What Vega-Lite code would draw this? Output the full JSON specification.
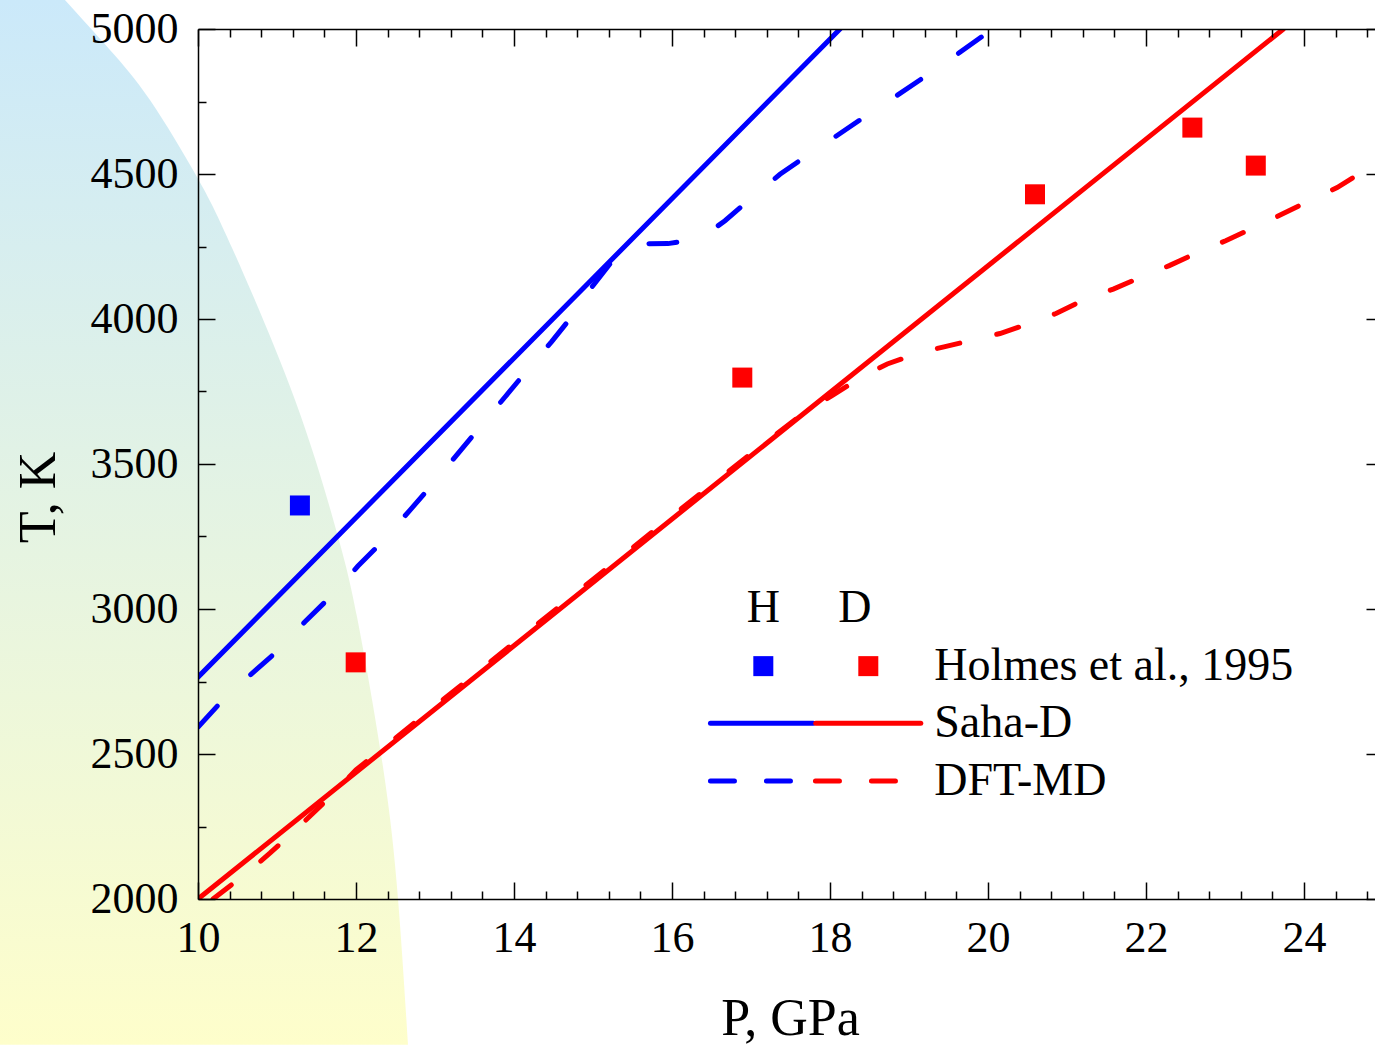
{
  "$schema": "https://vega.github.io/schema/vega-lite/v6.json",
  "width": 1177,
  "height": 870,
  "autosize": {"type": "none"},
  "padding": {"left": 198, "top": 29, "right": 0, "bottom": 146},
  "background": "white",
  "config": {
    "view": {"stroke": null},
    "font": "Liberation Serif",
    "axis": {
      "zindex": 1,
      "grid": false,
      "labelFlush": false,
      "domainColor": "#000000",
      "domainWidth": 1.5,
      "tickColor": "#000000",
      "tickWidth": 1.5,
      "labelFont": "Liberation Serif",
      "labelFontSize": 44,
      "labelColor": "#000000",
      "titleFont": "Liberation Serif",
      "titleFontSize": 52,
      "titleFontWeight": "normal",
      "titleColor": "#000000"
    }
  },
  "datasets": {
    "bg": [
      {"P": 8.316, "T": 5100}, {"P": 8.886, "T": 4928}, {"P": 9.392, "T": 4755},
      {"P": 9.987, "T": 4490}, {"P": 10.443, "T": 4238}, {"P": 11.228, "T": 3721},
      {"P": 11.759, "T": 3262}, {"P": 12.013, "T": 2972}, {"P": 12.342, "T": 2455},
      {"P": 12.532, "T": 2000}, {"P": 12.658, "T": 1497}
    ],
    "saha": [
      {"iso": "H", "P": 10.0, "T": 2765}, {"iso": "H", "P": 18.127, "T": 5000},
      {"iso": "D", "P": 10.0, "T": 2000}, {"iso": "D", "P": 23.74, "T": 5000}
    ],
    "dft": [
      {"iso": "H", "P": 10.004, "T": 2594}, {"iso": "H", "P": 10.257, "T": 2669},
      {"iso": "H", "P": 10.637, "T": 2767}, {"iso": "H", "P": 10.975, "T": 2848},
      {"iso": "H", "P": 11.354, "T": 2956}, {"iso": "H", "P": 11.671, "T": 3041},
      {"iso": "H", "P": 12.025, "T": 3148}, {"iso": "H", "P": 12.329, "T": 3231},
      {"iso": "H", "P": 12.684, "T": 3341}, {"iso": "H", "P": 12.962, "T": 3428},
      {"iso": "H", "P": 13.886, "T": 3731}, {"iso": "H", "P": 14.139, "T": 3814},
      {"iso": "H", "P": 14.477, "T": 3922}, {"iso": "H", "P": 14.73, "T": 4008},
      {"iso": "H", "P": 14.996, "T": 4114}, {"iso": "H", "P": 15.253, "T": 4203},
      {"iso": "H", "P": 15.45, "T": 4245}, {"iso": "H", "P": 15.633, "T": 4259},
      {"iso": "H", "P": 15.949, "T": 4260}, {"iso": "H", "P": 16.354, "T": 4276},
      {"iso": "H", "P": 16.671, "T": 4339}, {"iso": "H", "P": 17.063, "T": 4431},
      {"iso": "H", "P": 17.367, "T": 4499}, {"iso": "H", "P": 17.781, "T": 4577},
      {"iso": "H", "P": 18.085, "T": 4632}, {"iso": "H", "P": 18.485, "T": 4706},
      {"iso": "H", "P": 18.794, "T": 4761}, {"iso": "H", "P": 19.203, "T": 4836},
      {"iso": "H", "P": 19.497, "T": 4891}, {"iso": "H", "P": 19.92, "T": 4973},
      {"iso": "H", "P": 20.063, "T": 5000},
      {"iso": "D", "P": 10.19, "T": 2000}, {"iso": "D", "P": 10.62, "T": 2090},
      {"iso": "D", "P": 10.91, "T": 2158}, {"iso": "D", "P": 11.3, "T": 2255},
      {"iso": "D", "P": 11.7, "T": 2360}, {"iso": "D", "P": 12.0, "T": 2445},
      {"iso": "D", "P": 13.0, "T": 2665}, {"iso": "D", "P": 14.0, "T": 2883},
      {"iso": "D", "P": 15.0, "T": 3102}, {"iso": "D", "P": 16.0, "T": 3320},
      {"iso": "D", "P": 17.0, "T": 3536}, {"iso": "D", "P": 17.725, "T": 3688},
      {"iso": "D", "P": 18.021, "T": 3735}, {"iso": "D", "P": 18.42, "T": 3803},
      {"iso": "D", "P": 18.725, "T": 3845}, {"iso": "D", "P": 19.139, "T": 3884},
      {"iso": "D", "P": 19.443, "T": 3904}, {"iso": "D", "P": 19.848, "T": 3930},
      {"iso": "D", "P": 20.152, "T": 3950}, {"iso": "D", "P": 20.553, "T": 3987},
      {"iso": "D", "P": 20.861, "T": 4019}, {"iso": "D", "P": 21.249, "T": 4071},
      {"iso": "D", "P": 21.586, "T": 4103}, {"iso": "D", "P": 21.966, "T": 4148},
      {"iso": "D", "P": 22.295, "T": 4184}, {"iso": "D", "P": 22.675, "T": 4232},
      {"iso": "D", "P": 23.009, "T": 4270}, {"iso": "D", "P": 23.392, "T": 4318},
      {"iso": "D", "P": 23.718, "T": 4361}, {"iso": "D", "P": 24.097, "T": 4412},
      {"iso": "D", "P": 24.42, "T": 4453}, {"iso": "D", "P": 24.79, "T": 4516},
      {"iso": "D", "P": 24.9, "T": 4528}
    ],
    "holmes": [
      {"iso": "H", "P": 11.29, "T": 3357},
      {"iso": "D", "P": 11.996, "T": 2816},
      {"iso": "D", "P": 16.89, "T": 3798},
      {"iso": "D", "P": 20.595, "T": 4430},
      {"iso": "D", "P": 22.587, "T": 4660},
      {"iso": "D", "P": 23.39, "T": 4529}
    ],
    "legHead": [
      {"label": "H", "P": 17.156, "T": 3002},
      {"label": "D", "P": 18.316, "T": 3002}
    ],
    "legSym": [
      {"iso": "H", "P": 17.156, "T": 2803},
      {"iso": "D", "P": 18.485, "T": 2803}
    ],
    "legSolid": [
      {"iso": "H", "P": 16.487, "T": 2606}, {"iso": "H", "P": 17.789, "T": 2606},
      {"iso": "D", "P": 17.82, "T": 2606}, {"iso": "D", "P": 19.149, "T": 2606}
    ],
    "legDash": [
      {"iso": "H", "P": 16.487, "T": 2407}, {"iso": "H", "P": 17.62, "T": 2407},
      {"iso": "D", "P": 17.816, "T": 2407}, {"iso": "D", "P": 18.886, "T": 2407}
    ],
    "legText": [
      {"label": "Holmes et al., 1995", "P": 19.32, "T": 2803},
      {"label": "Saha-D", "P": 19.32, "T": 2606},
      {"label": "DFT-MD", "P": 19.32, "T": 2407}
    ]
  },
  "layer": [
    {
      "data": {"name": "bg"},
      "mark": {
        "type": "area",
        "orient": "horizontal",
        "interpolate": "natural",
        "clip": false,
        "fill": {
          "gradient": "linear",
          "x1": 0, "y1": 0, "x2": 0, "y2": 1,
          "stops": [
            {"offset": 0, "color": "#cbe9fa"},
            {"offset": 1, "color": "#fefecb"}
          ]
        }
      },
      "encoding": {
        "y": {
          "field": "T", "type": "quantitative",
          "scale": {"domain": [2000, 5000], "nice": false, "zero": false},
          "axis": {
            "orient": "left",
            "zindex": 1,
            "values": [2000, 2500, 3000, 3500, 4000, 4500, 5000],
            "format": "d",
            "tickSize": -17,
            "labelPadding": 37,
            "title": "T, K",
            "titleAngle": -90,
            "titleBaseline": "middle",
            "titleAnchor": null,
            "titleX": -160,
            "titleY": 468
          }
        },
        "x": {
          "field": "P", "type": "quantitative",
          "scale": {"domain": [10, 24.899], "nice": false, "zero": false},
          "axis": {
            "orient": "bottom",
            "zindex": 1,
            "values": [10, 12, 14, 16, 18, 20, 22, 24],
            "format": "d",
            "tickSize": -17,
            "labelPadding": 34,
            "title": "P, GPa",
            "titleAnchor": null,
            "titleBaseline": "middle",
            "titleX": 592,
            "titleY": 119
          }
        },
        "x2": {"datum": 7.0}
      }
    },
    {
      "data": {"name": "saha"},
      "mark": {"type": "line", "strokeWidth": 5, "strokeCap": "round", "clip": true},
      "encoding": {
        "x": {
          "field": "P", "type": "quantitative",
          "scale": {"domain": [10, 24.899], "nice": false, "zero": false},
          "axis": {
            "orient": "bottom",
            "zindex": 1,
            "values": [10.4, 10.8, 11.2, 11.6, 12.4, 12.8, 13.2, 13.6, 14.4, 14.8, 15.2, 15.6, 16.4, 16.8, 17.2, 17.6, 18.4, 18.8, 19.2, 19.6, 20.4, 20.8, 21.2, 21.6, 22.4, 22.8, 23.2, 23.6, 24.4, 24.8],
            "tickSize": -8, "labels": false, "domain": false, "title": null
          }
        },
        "y": {
          "field": "T", "type": "quantitative",
          "scale": {"domain": [2000, 5000], "nice": false, "zero": false},
          "axis": {
            "orient": "left",
            "zindex": 1,
            "values": [2250, 2750, 3250, 3750, 4250, 4750],
            "tickSize": -8, "labels": false, "domain": false, "title": null
          }
        },
        "detail": {"field": "iso"},
        "color": {"field": "iso", "type": "nominal", "scale": {"domain": ["H", "D"], "range": ["#0000ff", "#ff0000"]}, "legend": null}
      }
    },
    {
      "data": {"name": "dft"},
      "mark": {"type": "line", "strokeWidth": 5, "strokeCap": "round", "clip": true},
      "encoding": {
        "x": {
          "field": "P", "type": "quantitative",
          "scale": {"domain": [10, 24.899], "nice": false, "zero": false},
          "axis": {
            "orient": "top",
            "zindex": 1,
            "values": [10, 12, 14, 16, 18, 20, 22, 24],
            "tickSize": -17, "labels": false, "title": null
          }
        },
        "y": {
          "field": "T", "type": "quantitative",
          "scale": {"domain": [2000, 5000], "nice": false, "zero": false},
          "axis": {
            "orient": "right",
            "zindex": 1,
            "offset": 8,
            "values": [2000, 2500, 3000, 3500, 4000, 4500, 5000],
            "tickSize": -17, "labels": false, "title": null
          }
        },
        "detail": {"field": "iso"},
        "strokeDash": {"field": "iso", "type": "nominal", "scale": {"domain": ["H", "D"], "range": [[28, 46], [23, 38]]}, "legend": null},
        "color": {"field": "iso", "type": "nominal", "scale": {"domain": ["H", "D"], "range": ["#0000ff", "#ff0000"]}, "legend": null}
      }
    },
    {
      "data": {"name": "holmes"},
      "mark": {"type": "point", "shape": "square", "filled": true, "size": 400, "opacity": 1},
      "encoding": {
        "x": {
          "field": "P", "type": "quantitative",
          "scale": {"domain": [10, 24.899], "nice": false, "zero": false},
          "axis": {
            "orient": "top",
            "zindex": 1,
            "values": [10.4, 10.8, 11.2, 11.6, 12.4, 12.8, 13.2, 13.6, 14.4, 14.8, 15.2, 15.6, 16.4, 16.8, 17.2, 17.6, 18.4, 18.8, 19.2, 19.6, 20.4, 20.8, 21.2, 21.6, 22.4, 22.8, 23.2, 23.6, 24.4, 24.8],
            "tickSize": -8, "labels": false, "domain": false, "title": null
          }
        },
        "y": {
          "field": "T", "type": "quantitative",
          "scale": {"domain": [2000, 5000], "nice": false, "zero": false},
          "axis": {
            "orient": "right",
            "zindex": 1,
            "offset": 8,
            "values": [2250, 2750, 3250, 3750, 4250, 4750],
            "tickSize": -8, "labels": false, "domain": false, "title": null
          }
        },
        "color": {"field": "iso", "type": "nominal", "scale": {"domain": ["H", "D"], "range": ["#0000ff", "#ff0000"]}, "legend": null}
      }
    },
    {
      "data": {"name": "legHead"},
      "mark": {"type": "text", "fontSize": 46, "font": "Liberation Serif", "align": "center", "baseline": "middle", "color": "#000000"},
      "encoding": {
        "x": {"field": "P", "type": "quantitative", "axis": null},
        "y": {"field": "T", "type": "quantitative", "axis": null},
        "text": {"field": "label"}
      }
    },
    {
      "data": {"name": "legSym"},
      "mark": {"type": "point", "shape": "square", "filled": true, "size": 400, "opacity": 1},
      "encoding": {
        "x": {"field": "P", "type": "quantitative", "axis": null},
        "y": {"field": "T", "type": "quantitative", "axis": null},
        "color": {"field": "iso", "type": "nominal", "scale": {"domain": ["H", "D"], "range": ["#0000ff", "#ff0000"]}, "legend": null}
      }
    },
    {
      "data": {"name": "legSolid"},
      "mark": {"type": "line", "strokeWidth": 5, "strokeCap": "round"},
      "encoding": {
        "x": {"field": "P", "type": "quantitative", "axis": null},
        "y": {"field": "T", "type": "quantitative", "axis": null},
        "detail": {"field": "iso"},
        "color": {"field": "iso", "type": "nominal", "scale": {"domain": ["H", "D"], "range": ["#0000ff", "#ff0000"]}, "legend": null}
      }
    },
    {
      "data": {"name": "legDash"},
      "mark": {"type": "line", "strokeWidth": 5, "strokeCap": "round", "strokeDash": [24, 32]},
      "encoding": {
        "x": {"field": "P", "type": "quantitative", "axis": null},
        "y": {"field": "T", "type": "quantitative", "axis": null},
        "detail": {"field": "iso"},
        "color": {"field": "iso", "type": "nominal", "scale": {"domain": ["H", "D"], "range": ["#0000ff", "#ff0000"]}, "legend": null}
      }
    },
    {
      "data": {"name": "legText"},
      "mark": {"type": "text", "fontSize": 46, "font": "Liberation Serif", "align": "left", "baseline": "middle", "color": "#000000"},
      "encoding": {
        "x": {"field": "P", "type": "quantitative", "axis": null},
        "y": {"field": "T", "type": "quantitative", "axis": null},
        "text": {"field": "label"}
      }
    }
  ],
  "resolve": {"axis": {"x": "independent", "y": "independent"}}
}
